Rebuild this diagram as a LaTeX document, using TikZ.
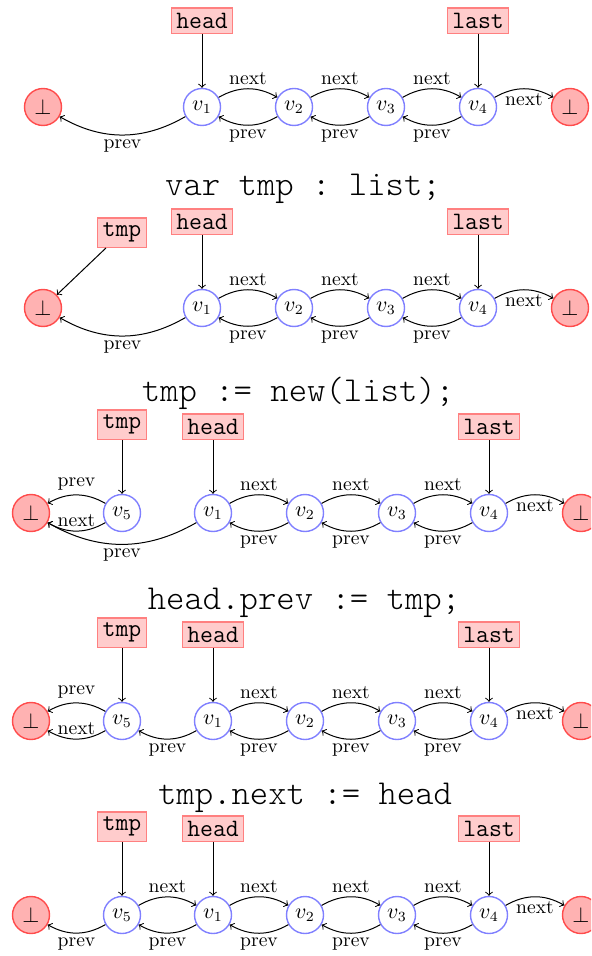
\documentclass[tikz,border=0pt]{standalone}
\usepackage{fontspec}
\setmonofont{Latin Modern Mono Light}
\newfontfamily\regtt{Latin Modern Mono}
\begin{document}
\begin{tikzpicture}[x=0.5pt,y=0.5pt]
\tikzset{
  vtx/.style={circle, draw=blue!50, line width=0.7pt, minimum size=18.5pt, inner sep=0pt, font=\fontsize{10.5}{12}\selectfont},
  nil/.style={circle, draw=red!70, fill=red!30, line width=0.7pt, minimum size=18.5pt, inner sep=0pt, font=\fontsize{10.5}{12}\selectfont},
  ptr/.style={rectangle, draw=red!50, fill=red!20, line width=0.6pt, inner sep=2.5pt, anchor=south, font=\fontsize{12.5}{14}\selectfont\regtt},
  cmd/.style={anchor=base, inner sep=0pt, font=\fontsize{17.5}{20}\selectfont\ttfamily},
  lnk/.style={->, >=to, line width=0.5pt},
  lbl/.style={font=\fontsize{9.8}{11}\selectfont, inner sep=2pt},
}
\useasboundingbox (0,0) rectangle (591,-956);
\clip (0,0) rectangle (591,-956);

% ---- initial list
\node[nil] (a0) at (43,-107) {$\bot$};
\node[vtx] (a1) at (202,-107) {$v_1$};
\node[vtx] (a2) at (294,-107) {$v_2$};
\node[vtx] (a3) at (386,-107) {$v_3$};
\node[vtx] (a4) at (478,-107) {$v_4$};
\node[nil] (a5) at (570,-107) {$\bot$};
\node[ptr] (ahead) at (202,-34) {head};
\node[ptr] (alast) at (478,-34) {last};
\draw[lnk] (ahead) -- (a1);
\draw[lnk] (alast) -- (a4);
\draw[lnk] (a1) to[bend left=30] node[lbl,above]{next} (a2);
\draw[lnk] (a2) to[bend left=30] node[lbl,below]{prev} (a1);
\draw[lnk] (a2) to[bend left=30] node[lbl,above]{next} (a3);
\draw[lnk] (a3) to[bend left=30] node[lbl,below]{prev} (a2);
\draw[lnk] (a3) to[bend left=30] node[lbl,above]{next} (a4);
\draw[lnk] (a4) to[bend left=30] node[lbl,below]{prev} (a3);
\draw[lnk] (a4) to[bend left=30] node[lbl,below]{next} (a5);
\draw[lnk] (a1) to[bend left=30] node[lbl,below]{prev} (a0);

% ---- var tmp : list;
\node[cmd] (bcmd) at (303,-196) {var tmp : list;};
\node[nil] (b0) at (43,-308) {$\bot$};
\node[vtx] (b1) at (202,-308) {$v_1$};
\node[vtx] (b2) at (294,-308) {$v_2$};
\node[vtx] (b3) at (386,-308) {$v_3$};
\node[vtx] (b4) at (478,-308) {$v_4$};
\node[nil] (b5) at (570,-308) {$\bot$};
\node[ptr] (bhead) at (202,-235) {head};
\node[ptr] (blast) at (478,-235) {last};
\node[ptr] (btmp) at (122,-248) {tmp};
\draw[lnk] (bhead) -- (b1);
\draw[lnk] (blast) -- (b4);
\draw[lnk] (btmp) -- (b0);
\draw[lnk] (b1) to[bend left=30] node[lbl,above]{next} (b2);
\draw[lnk] (b2) to[bend left=30] node[lbl,below]{prev} (b1);
\draw[lnk] (b2) to[bend left=30] node[lbl,above]{next} (b3);
\draw[lnk] (b3) to[bend left=30] node[lbl,below]{prev} (b2);
\draw[lnk] (b3) to[bend left=30] node[lbl,above]{next} (b4);
\draw[lnk] (b4) to[bend left=30] node[lbl,below]{prev} (b3);
\draw[lnk] (b4) to[bend left=30] node[lbl,below]{next} (b5);
\draw[lnk] (b1) to[bend left=30] node[lbl,below]{prev} (b0);

% ---- tmp := new(list);
\node[cmd] (ccmd) at (298,-401) {tmp := new(list);};
\node[nil] (c0) at (31,-513) {$\bot$};
\node[vtx] (c5) at (122,-513) {$v_5$};
\node[vtx] (c1) at (213,-513) {$v_1$};
\node[vtx] (c2) at (305,-513) {$v_2$};
\node[vtx] (c3) at (397,-513) {$v_3$};
\node[vtx] (c4) at (489,-513) {$v_4$};
\node[nil] (c6) at (581,-513) {$\bot$};
\node[ptr] (ctmp) at (122,-440) {tmp};
\node[ptr] (chead) at (213,-440) {head};
\node[ptr] (clast) at (489,-440) {last};
\draw[lnk] (ctmp) -- (c5);
\draw[lnk] (chead) -- (c1);
\draw[lnk] (clast) -- (c4);
\draw[lnk] (c5) to[bend right=30] node[lbl,above]{prev} (c0);
\draw[lnk] (c5) to[bend left=30] node[lbl,above]{next} (c0);
\draw[lnk] (c1) to[bend left=30] node[lbl,below]{prev} (c0);
\draw[lnk] (c1) to[bend left=30] node[lbl,above]{next} (c2);
\draw[lnk] (c2) to[bend left=30] node[lbl,below]{prev} (c1);
\draw[lnk] (c2) to[bend left=30] node[lbl,above]{next} (c3);
\draw[lnk] (c3) to[bend left=30] node[lbl,below]{prev} (c2);
\draw[lnk] (c3) to[bend left=30] node[lbl,above]{next} (c4);
\draw[lnk] (c4) to[bend left=30] node[lbl,below]{prev} (c3);
\draw[lnk] (c4) to[bend left=30] node[lbl,below]{next} (c6);

% ---- head.prev := tmp;
\node[cmd] (dcmd) at (304,-609) {head.prev := tmp;};
\node[nil] (d0) at (31,-721) {$\bot$};
\node[vtx] (d5) at (122,-721) {$v_5$};
\node[vtx] (d1) at (213,-721) {$v_1$};
\node[vtx] (d2) at (305,-721) {$v_2$};
\node[vtx] (d3) at (397,-721) {$v_3$};
\node[vtx] (d4) at (489,-721) {$v_4$};
\node[nil] (d6) at (581,-721) {$\bot$};
\node[ptr] (dtmp) at (122,-648) {tmp};
\node[ptr] (dhead) at (213,-648) {head};
\node[ptr] (dlast) at (489,-648) {last};
\draw[lnk] (dtmp) -- (d5);
\draw[lnk] (dhead) -- (d1);
\draw[lnk] (dlast) -- (d4);
\draw[lnk] (d5) to[bend right=30] node[lbl,above]{prev} (d0);
\draw[lnk] (d5) to[bend left=30] node[lbl,above]{next} (d0);
\draw[lnk] (d1) to[bend left=30] node[lbl,below]{prev} (d5);
\draw[lnk] (d1) to[bend left=30] node[lbl,above]{next} (d2);
\draw[lnk] (d2) to[bend left=30] node[lbl,below]{prev} (d1);
\draw[lnk] (d2) to[bend left=30] node[lbl,above]{next} (d3);
\draw[lnk] (d3) to[bend left=30] node[lbl,below]{prev} (d2);
\draw[lnk] (d3) to[bend left=30] node[lbl,above]{next} (d4);
\draw[lnk] (d4) to[bend left=30] node[lbl,below]{prev} (d3);
\draw[lnk] (d4) to[bend left=30] node[lbl,below]{next} (d6);

% ---- tmp.next := head
\node[cmd] (ecmd) at (305,-804) {tmp.next := head};
\node[nil] (e0) at (31,-915) {$\bot$};
\node[vtx] (e5) at (122,-915) {$v_5$};
\node[vtx] (e1) at (213,-915) {$v_1$};
\node[vtx] (e2) at (305,-915) {$v_2$};
\node[vtx] (e3) at (397,-915) {$v_3$};
\node[vtx] (e4) at (489,-915) {$v_4$};
\node[nil] (e6) at (581,-915) {$\bot$};
\node[ptr] (etmp) at (122,-842) {tmp};
\node[ptr] (ehead) at (213,-842) {head};
\node[ptr] (elast) at (489,-842) {last};
\draw[lnk] (etmp) -- (e5);
\draw[lnk] (ehead) -- (e1);
\draw[lnk] (elast) -- (e4);
\draw[lnk] (e5) to[bend left=30] node[lbl,below]{prev} (e0);
\draw[lnk] (e5) to[bend left=30] node[lbl,above]{next} (e1);
\draw[lnk] (e1) to[bend left=30] node[lbl,below]{prev} (e5);
\draw[lnk] (e1) to[bend left=30] node[lbl,above]{next} (e2);
\draw[lnk] (e2) to[bend left=30] node[lbl,below]{prev} (e1);
\draw[lnk] (e2) to[bend left=30] node[lbl,above]{next} (e3);
\draw[lnk] (e3) to[bend left=30] node[lbl,below]{prev} (e2);
\draw[lnk] (e3) to[bend left=30] node[lbl,above]{next} (e4);
\draw[lnk] (e4) to[bend left=30] node[lbl,below]{prev} (e3);
\draw[lnk] (e4) to[bend left=30] node[lbl,below]{next} (e6);
\end{tikzpicture}
\end{document}
